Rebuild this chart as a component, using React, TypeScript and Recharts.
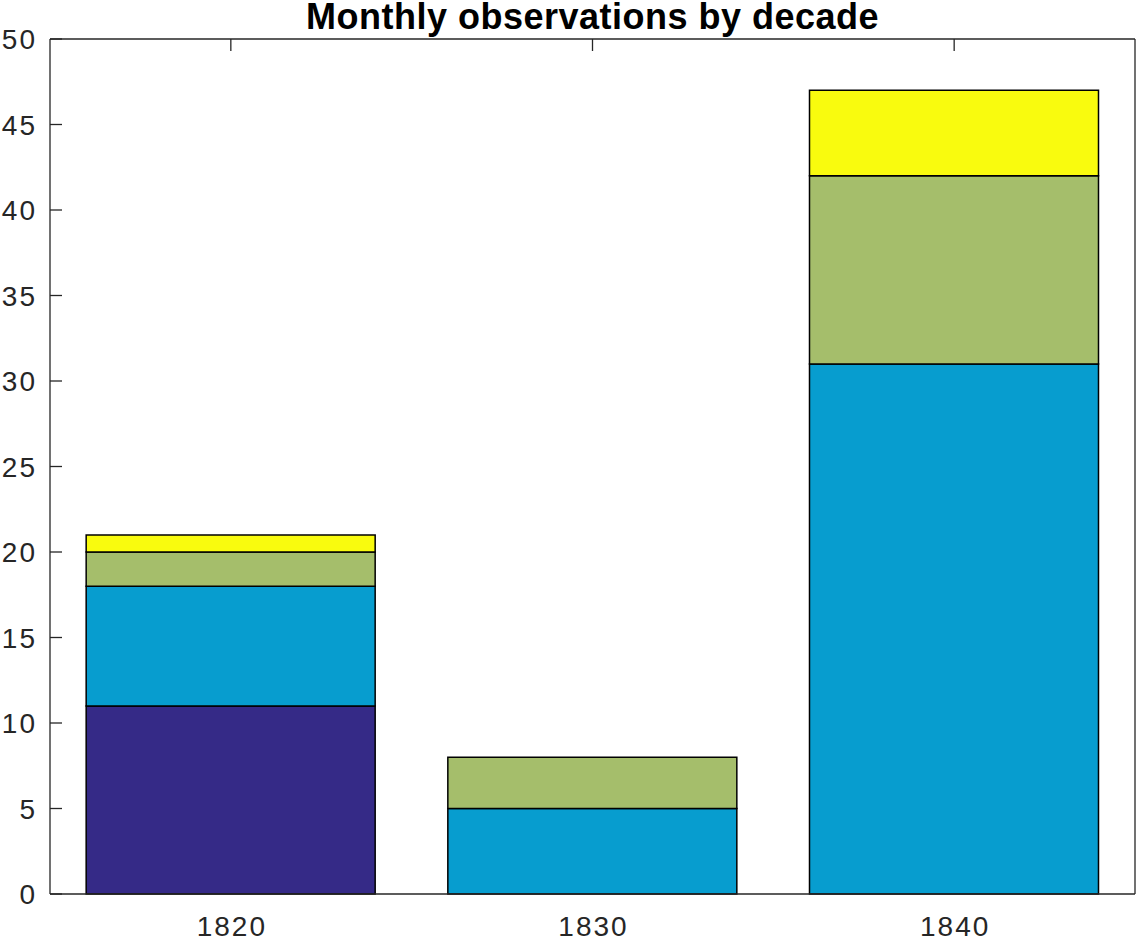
import { BarChart, Bar, XAxis, YAxis } from 'recharts'

const decades = ['1820', '1830', '1840']
const series1 = [11, 0, 0]
const series2 = [7, 5, 31]
const series3 = [2, 3, 11]
const series4 = [1, 0, 5]
const yTicks = [0, 5, 10, 15, 20, 25, 30, 35, 40, 45, 50]

const colors = ['#352a87', '#079dcf', '#a5be6b', '#f9fb0e']
const font = '"Liberation Sans", Arial, Helvetica, sans-serif'
const axisColor = '#262626'

// plot box edges (MATLAB-like box with inward ticks)
const PLOT_LEFT = 50
const PLOT_RIGHT = 1135
const PLOT_TOP = 39
const TICK_LEN = 12

const data = decades.map((decade, i) => ({
  decade,
  s1: series1[i],
  s2: series2[i],
  s3: series3[i],
  s4: series4[i],
}))

const LeftTick = (props: any) => {
  const { y, payload } = props
  return (
    <g>
      <line x1={PLOT_LEFT} x2={PLOT_LEFT + TICK_LEN} y1={y} y2={y} stroke={axisColor} strokeWidth={1.3} />
      <text
        x={PLOT_LEFT - 13}
        y={y}
        dy="0.36em"
        textAnchor="end"
        fontSize={28}
        letterSpacing={2}
        fontFamily={font}
        fill={axisColor}
      >
        {payload.value}
      </text>
    </g>
  )
}

const RightTick = (props: any) => {
  const { y } = props
  return <line x1={PLOT_RIGHT} x2={PLOT_RIGHT - TICK_LEN} y1={y} y2={y} stroke={axisColor} strokeWidth={1.3} />
}

const TopTick = (props: any) => {
  const { x } = props
  return <line x1={x} x2={x} y1={PLOT_TOP} y2={PLOT_TOP + TICK_LEN} stroke={axisColor} strokeWidth={1.3} />
}

const BottomTick = (props: any) => {
  const { x, payload } = props
  return (
    <text
      x={x + 1}
      y={936}
      textAnchor="middle"
      fontSize={28}
      letterSpacing={2}
      fontFamily={font}
      fill={axisColor}
    >
      {payload.value}
    </text>
  )
}

export default function App() {
  return (
    <div style={{ position: 'relative', width: 1137, height: 942, background: '#fff' }}>
      <style>{'body{margin:0}'}</style>
      <div
        style={{
          position: 'absolute',
          left: PLOT_LEFT,
          width: PLOT_RIGHT - PLOT_LEFT,
          top: 0,
          lineHeight: '34px',
          textAlign: 'center',
          fontFamily: font,
          fontWeight: 'bold',
          fontSize: 36,
          letterSpacing: 0.5,
          color: '#000',
          zIndex: 1,
        }}
      >
        Monthly observations by decade
      </div>
      <BarChart
        width={1137}
        height={942}
        data={data}
        margin={{ top: 0, right: 0, bottom: 0, left: 0 }}
        barCategoryGap="10%"
      >
        <XAxis
          dataKey="decade"
          height={48}
          tickLine={false}
          tickSize={0}
          tickMargin={0}
          tick={<BottomTick />}
          axisLine={{ stroke: axisColor, strokeWidth: 1.3 }}
        />
        <XAxis
          xAxisId="top"
          dataKey="decade"
          orientation="top"
          height={PLOT_TOP}
          tickLine={false}
          tickSize={0}
          tickMargin={0}
          tick={<TopTick />}
          axisLine={{ stroke: axisColor, strokeWidth: 1.3 }}
        />
        <YAxis
          width={PLOT_LEFT}
          domain={[0, 50]}
          ticks={yTicks}
          interval={0}
          tickLine={false}
          tickSize={0}
          tickMargin={0}
          tick={<LeftTick />}
          axisLine={{ stroke: axisColor, strokeWidth: 1.3 }}
        />
        <YAxis
          yAxisId="right"
          orientation="right"
          width={1137 - PLOT_RIGHT}
          domain={[0, 50]}
          ticks={yTicks}
          interval={0}
          tickLine={false}
          tickSize={0}
          tickMargin={0}
          tick={<RightTick />}
          axisLine={{ stroke: axisColor, strokeWidth: 1.3 }}
        />
        <Bar dataKey="s1" stackId="a" fill={colors[0]} stroke="#000" strokeWidth={1.5} isAnimationActive={false} />
        <Bar dataKey="s2" stackId="a" fill={colors[1]} stroke="#000" strokeWidth={1.5} isAnimationActive={false} />
        <Bar dataKey="s3" stackId="a" fill={colors[2]} stroke="#000" strokeWidth={1.5} isAnimationActive={false} />
        <Bar dataKey="s4" stackId="a" fill={colors[3]} stroke="#000" strokeWidth={1.5} isAnimationActive={false} />
      </BarChart>
    </div>
  )
}
